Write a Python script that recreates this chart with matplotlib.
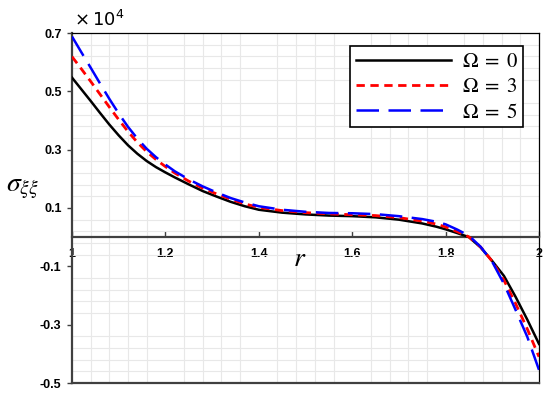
import numpy as np
import matplotlib
matplotlib.use("Agg")
import matplotlib.pyplot as plt

plt.rcParams['mathtext.fontset'] = 'stix'

r = [1.00, 1.02, 1.04, 1.06, 1.08, 1.10, 1.12, 1.14, 1.16, 1.18, 1.20, 1.22,
     1.25, 1.28, 1.31, 1.34, 1.37, 1.40, 1.45, 1.50, 1.55, 1.60, 1.65, 1.70,
     1.75, 1.78, 1.80, 1.825, 1.85, 1.875, 1.90, 1.925, 1.95, 1.975, 2.00]
omega0 = [0.547, 0.507, 0.467, 0.426, 0.386, 0.349, 0.315, 0.286, 0.261, 0.240,
          0.222, 0.205, 0.181, 0.158, 0.139, 0.121, 0.106, 0.094, 0.084, 0.078,
          0.074, 0.072, 0.068, 0.060, 0.047, 0.036, 0.027, 0.014, 0.000, -0.035,
          -0.082, -0.133, -0.205, -0.283, -0.366]
omega3 = [0.619, 0.577, 0.534, 0.490, 0.446, 0.403, 0.362, 0.325, 0.293, 0.266,
          0.242, 0.220, 0.192, 0.168, 0.148, 0.130, 0.114, 0.102, 0.091, 0.084,
          0.080, 0.077, 0.074, 0.067, 0.055, 0.045, 0.035, 0.019, 0.001, -0.034,
          -0.083, -0.148, -0.228, -0.315, -0.410]
omega5 = [0.688, 0.634, 0.581, 0.527, 0.474, 0.424, 0.378, 0.338, 0.303, 0.274,
          0.249, 0.226, 0.198, 0.174, 0.153, 0.134, 0.119, 0.106, 0.094, 0.087,
          0.083, 0.082, 0.079, 0.072, 0.062, 0.053, 0.044, 0.026, 0.005, -0.033,
          -0.085, -0.160, -0.250, -0.342, -0.455]
labels = [r'$\Omega\;=\;0$', r'$\Omega\;=\;3$', r'$\Omega\;=\;5$']
xticks = [1, 1.2, 1.4, 1.6, 1.8, 2]
xticklabels = ['1', '1.2', '1.4', '1.6', '1.8', '2']
yticks = [-0.5, -0.3, -0.1, 0.1, 0.3, 0.5, 0.7]
yticklabels = ['-0.5', '-0.3', '-0.1', '0.1', '0.3', '0.5', '0.7']

fig = plt.figure(figsize=(5.5, 3.97), dpi=100)
ax = fig.add_axes([72/550, 1-383/397, (539-72)/550, (383-33)/397])

ax.set_xlim(1, 2)
ax.set_ylim(-0.5, 0.7)

# grid
ax.set_xticks(np.arange(1.0, 2.001, 0.04), minor=True)
ax.set_yticks(np.arange(-0.5, 0.701, 0.04), minor=True)
ax.grid(True, which='minor', color='#e8e8e8', linewidth=0.8)
ax.tick_params(which='minor', length=0)

ax.plot(r, omega0, color='black', lw=1.8, label=labels[0], zorder=3)
ax.plot(r, omega3, color='red', lw=2.0, dashes=(3, 2), label=labels[1], zorder=4)
ax.plot(r, omega5, color='blue', lw=1.8, dashes=(9, 3.8), label=labels[2], zorder=5)

# spines
ax.spines['bottom'].set_position(('data', 0))
ax.spines['bottom'].set_color('#404040')
ax.spines['bottom'].set_linewidth(1.6)
ax.spines['left'].set_color('#404040')
ax.spines['left'].set_linewidth(1.6)
for s in ['top', 'right']:
    ax.spines[s].set_color('black')
    ax.spines[s].set_linewidth(0.9)
ax.plot([0, 1], [0, 0], transform=ax.transAxes, color='#404040', lw=1.6,
        clip_on=False, zorder=6)

ax.set_xticks(xticks)
ax.set_xticklabels(xticklabels, fontfamily='Liberation Sans', fontweight='bold',
                   fontsize=9)
ax.set_yticks(yticks)
ax.set_yticklabels(yticklabels, fontfamily='Liberation Sans', fontweight='bold',
                   fontsize=9)
ax.tick_params(axis='x', direction='in', length=4, width=1, color='#404040', pad=8)
ax.tick_params(axis='y', direction='out', length=3.5, width=1, color='#404040', pad=4)

leg = ax.legend(loc='upper right', bbox_to_anchor=(0.966, 0.963), borderaxespad=0,
                fancybox=False, edgecolor='black', framealpha=1, fontsize=15,
                handlelength=4.6, handletextpad=0.5, labelspacing=0.25,
                borderpad=0.25)
leg.get_frame().set_linewidth(1.2)

fig.text(300/550, 1-258/397, r'$r$', fontsize=20, ha='center', va='center')
fig.text(6/550, 1-188/397, r'$\sigma_{\xi\xi}$', fontsize=20, ha='left', va='center')
fig.text(74/550, 1-20/397, r'$\times\,10^4$', fontsize=13, ha='left', va='center',
         math_fontfamily='dejavusans')

fig.savefig('out.png', dpi=100)
